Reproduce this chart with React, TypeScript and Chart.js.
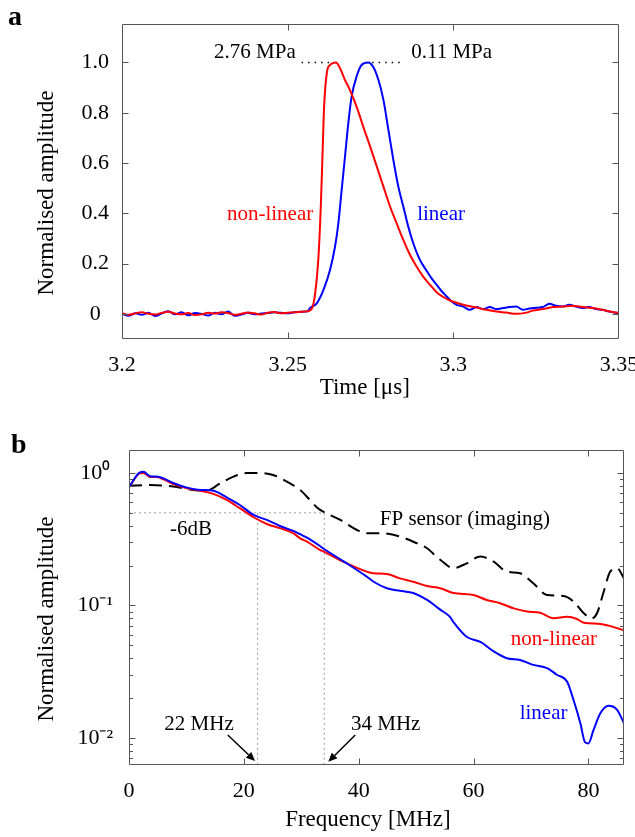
import React, { useEffect, useRef } from "react";
import { Chart, registerables } from "chart.js";

Chart.register(...registerables);

const SERIF = '"Liberation Serif", "Times New Roman", Times, serif';
const RED = "#ff0000";
const BLUE = "#0000ff";
const AXIS = "#555555";
const NB = "\u00a0";

// ---------------- Panel a : time traces ----------------
const timeNonLinear = [
  3.200, 3.202, 3.204, 3.206, 3.208, 3.210, 3.212, 3.214, 3.216, 3.218, 3.220, 3.222, 3.224, 3.226, 3.228,
  3.230, 3.232, 3.234, 3.236, 3.238, 3.240, 3.242, 3.244, 3.246, 3.248, 3.250, 3.252, 3.254, 3.256,
  3.2573, 3.2583, 3.2593, 3.2600, 3.2605, 3.2610, 3.2618, 3.2628, 3.2646, 3.2658,
  3.2673, 3.2688, 3.2708, 3.2728, 3.2749, 3.2769, 3.2789, 3.2809, 3.2829, 3.2849,
  3.2869, 3.2889, 3.2909, 3.2930, 3.2950, 3.2970, 3.2990, 3.3010, 3.3030, 3.3050,
  3.3070, 3.3100, 3.3130, 3.3160, 3.3190, 3.3220, 3.3240, 3.3270, 3.3300, 3.3330,
  3.3360, 3.3390, 3.3420, 3.3450, 3.3490, 3.3500,
];
const ampNonLinear = [
  0.003, -0.004, 0.002, 0.006, 0.000, -0.003, 0.004, 0.008, 0.002, -0.002, 0.003, -0.005, -0.002, 0.004, 0.001,
  0.006, 0.003, -0.004, 0.000, 0.005, 0.002, -0.003, 0.004, 0.007, 0.002, 0.004, 0.006, 0.008, 0.010,
  0.020, 0.082, 0.228, 0.427, 0.625, 0.824, 0.957, 0.990, 1.000, 0.977,
  0.930, 0.890, 0.824, 0.745, 0.665, 0.586, 0.506, 0.427, 0.360, 0.294,
  0.235, 0.188, 0.148, 0.115, 0.085, 0.067, 0.053, 0.044, 0.036, 0.030,
  0.025, 0.016, 0.009, 0.005, 0.000, 0.005, 0.013, 0.019, 0.027, 0.029,
  0.032, 0.027, 0.023, 0.016, 0.005, 0.004,
];
const timeLinear = [
  3.200, 3.202, 3.204, 3.206, 3.208, 3.210, 3.212, 3.214, 3.216, 3.218, 3.220, 3.222, 3.224, 3.226, 3.228,
  3.230, 3.232, 3.234, 3.236, 3.238, 3.240, 3.242, 3.244, 3.246, 3.248, 3.250, 3.252, 3.254, 3.256,
  3.2567, 3.2588, 3.2608, 3.2628, 3.2643, 3.2653, 3.2663, 3.2673, 3.2683, 3.2693,
  3.2708, 3.2723, 3.2743, 3.2758, 3.2774, 3.2789, 3.2804, 3.2819, 3.2834, 3.2849,
  3.2864, 3.2879, 3.2899, 3.2920, 3.2935, 3.2950, 3.2965, 3.2980, 3.2995, 3.3010,
  3.3030, 3.3050, 3.3070, 3.3090, 3.3110, 3.3130, 3.3150, 3.3170, 3.3190, 3.3210,
  3.3230, 3.3250, 3.3270, 3.3290, 3.3310, 3.3330, 3.3350, 3.3370, 3.3390, 3.3410,
  3.3430, 3.3450, 3.3470, 3.3500,
];
const ampLinear = [
  0.000, -0.008, 0.002, -0.004, 0.004, -0.009, 0.002, 0.010, -0.002, 0.006, -0.006, 0.003, 0.000, -0.007, 0.004,
  -0.002, 0.009, -0.008, -0.003, 0.004, -0.002, 0.001, 0.003, 0.006, 0.004, 0.002, 0.006, 0.008, 0.010,
  0.023, 0.042, 0.095, 0.175, 0.268, 0.360, 0.493, 0.625, 0.758, 0.864,
  0.944, 0.990, 1.000, 0.983, 0.930, 0.851, 0.732, 0.612, 0.506, 0.427,
  0.347, 0.281, 0.215, 0.170, 0.140, 0.115, 0.090, 0.069, 0.049, 0.036,
  0.029, 0.016, 0.027, 0.019, 0.027, 0.019, 0.023, 0.027, 0.029, 0.016,
  0.021, 0.024, 0.027, 0.040, 0.032, 0.029, 0.036, 0.029, 0.023, 0.027,
  0.019, 0.016, 0.009, 0.003,
];
const timeTicks = [3.2, 3.25, 3.3, 3.35];
const ampTicks = [0, 0.2, 0.4, 0.6, 0.8, 1.0];
const timeRange = [3.2, 3.35];
const ampRange = [-0.1, 1.153];
// dotted guide lines from the peaks to the pressure labels
const peakGuideNonLinear = [3.2542, 3.2637];
const peakGuideLinear = [3.2755, 3.2849];
const peakLevel = 1.0;

// ---------------- Panel b : spectra ----------------
const freqNonLinear = [
  0, 1.9, 2.5, 3.7, 4.8, 6.0, 7.7, 10.1, 12.4, 14.7,
  17.0, 19.3, 21.7, 24.0, 26.3, 28.6, 29.8, 31.0, 33.3, 33.9,
  37.3, 41.4, 42.6, 44.9, 47.2, 49.5, 51.9, 54.2, 56.5, 60.0,
  62.3, 64.6, 67.0, 69.3, 71.6, 73.9, 76.3, 78.0, 79.2, 82.1,
  86.2,
];
const specNonLinear = [
  0.78, 0.995, 1.0, 0.933, 0.933, 0.896, 0.826, 0.767, 0.735, 0.695,
  0.625, 0.542, 0.463, 0.412, 0.383, 0.351, 0.321, 0.303, 0.262, 0.255,
  0.214, 0.180, 0.175, 0.173, 0.160, 0.151, 0.140, 0.135, 0.124, 0.120,
  0.110, 0.104, 0.095, 0.090, 0.088, 0.080, 0.082, 0.079, 0.074, 0.0725,
  0.065,
];
const freqLinear = [
  0, 1.9, 2.5, 3.7, 4.8, 6.0, 7.7, 10.1, 12.4, 14.7,
  17.0, 19.3, 21.7, 24.0, 26.3, 28.6, 29.8, 31.0, 33.3, 33.9,
  37.3, 41.4, 42.6, 44.9, 47.2, 49.5, 51.9, 54.2, 55.9, 56.5,
  58.8, 61.2, 63.5, 65.8, 68.1, 70.4, 72.8, 74.5, 76.3, 77.4,
  78.6, 79.4, 80.0, 80.9, 82.1, 83.5, 85.0, 86.2,
];
const specLinear = [
  0.78, 1.01, 1.02, 0.945, 0.94, 0.91, 0.84, 0.775, 0.745, 0.735,
  0.655, 0.573, 0.482, 0.442, 0.398, 0.365, 0.345, 0.325, 0.280, 0.268,
  0.216, 0.165, 0.151, 0.135, 0.129, 0.124, 0.110, 0.093, 0.082, 0.075,
  0.058, 0.053, 0.045, 0.040, 0.0388, 0.0356, 0.0336, 0.030, 0.0266, 0.0194,
  0.0129, 0.0093, 0.0091, 0.0115, 0.0154, 0.0175, 0.0163, 0.0129,
];
const freqFP = [
  0, 3.7, 7.7, 11.2, 13.5, 15.9, 18.2, 20.5, 22.8, 25.1,
  27.5, 29.8, 31.5, 32.7, 33.3, 36.8, 39.7, 41.4, 43.7, 47.2,
  50.1, 51.9, 54.2, 56.5, 58.8, 61.2, 63.5, 65.8, 68.1, 70.4,
  72.8, 75.7, 77.4, 79.2, 80.6, 81.5, 82.6, 83.8, 85.0, 86.2,
];
const specFP = [
  0.80, 0.811, 0.79, 0.744, 0.735, 0.836, 0.938, 0.998, 1.0, 0.966,
  0.86, 0.744, 0.625, 0.551, 0.526, 0.442, 0.371, 0.351, 0.351, 0.331,
  0.295, 0.270, 0.221, 0.191, 0.208, 0.234, 0.214, 0.180, 0.175, 0.147,
  0.120, 0.118, 0.107, 0.0873, 0.080, 0.0873, 0.124, 0.180, 0.191, 0.160,
];
const freqTicks = [0, 20, 40, 60, 80];
const freqRange = [0, 86.2];
const specRange = [0.00625, 1.49];
const decades = [0.001, 0.01, 0.1, 1];
const minorMultipliers = [2, 3, 4, 5, 6, 7, 8, 9];
const superDigits: Record<string, string> = { "0": "⁰", "1": "¹", "2": "²", "-": "⁻" };
const minus6dBLevel = 0.5;
const cutoffFreqs = [22.4, 34];

// ---------------- helpers ----------------
const pts = (xs: number[], ys: number[]) => xs.map((x, i) => ({ x, y: ys[i] }));

const framePlugin = {
  id: "frame",
  afterDatasetsDraw(chart: any) {
    const { ctx, chartArea: a } = chart;
    const xs = chart.scales.x;
    const ys = chart.scales.y;
    const isLog = ys.type === "logarithmic";
    const L = Math.round(a.left) + 0.5;
    const R = Math.round(a.right) - 0.5;
    const T = Math.round(a.top) + 0.5;
    const B = Math.round(a.bottom) - 0.5;
    ctx.save();
    ctx.strokeStyle = AXIS;
    ctx.lineWidth = 1;
    ctx.beginPath();
    ctx.rect(L, T, R - L, B - T);
    for (const t of xs.ticks) {
      const p = Math.round(xs.getPixelForValue(t.value)) + 0.5;
      if (p <= L + 1 || p >= R - 1) continue;
      ctx.moveTo(p, B);
      ctx.lineTo(p, B - 6);
      ctx.moveTo(p, T);
      ctx.lineTo(p, T + 6);
    }
    for (const t of ys.ticks) {
      const p = Math.round(ys.getPixelForValue(t.value)) + 0.5;
      if (p <= T + 1 || p >= B - 1) continue;
      let len = 6;
      if (isLog) {
        const e = Math.log10(t.value);
        if (Math.abs(e - Math.round(e)) > 1e-6) len = 3.5;
      }
      ctx.moveTo(L, p);
      ctx.lineTo(L + len, p);
      ctx.moveTo(R, p);
      ctx.lineTo(R - len, p);
    }
    ctx.stroke();
    ctx.restore();
  },
};

type Note = { text: string; x: number; y: number; color: string };
type Arrow = { x0: number; y0: number; x1: number; y1: number };

const makeNotes = (notes: Note[], arrows: Arrow[]) => ({
  id: "notes",
  afterDraw(chart: any) {
    const { ctx } = chart;
    const xs = chart.scales.x;
    const ys = chart.scales.y;
    ctx.save();
    ctx.font = `21px ${SERIF}`;
    ctx.textAlign = "center";
    ctx.textBaseline = "middle";
    for (const n of notes) {
      ctx.fillStyle = n.color;
      ctx.fillText(n.text, xs.getPixelForValue(n.x), ys.getPixelForValue(n.y));
    }
    ctx.strokeStyle = "#000";
    ctx.fillStyle = "#000";
    ctx.lineWidth = 1.5;
    for (const ar of arrows) {
      const x0 = xs.getPixelForValue(ar.x0);
      const y0 = ys.getPixelForValue(ar.y0);
      const x1 = xs.getPixelForValue(ar.x1);
      const y1 = ys.getPixelForValue(ar.y1);
      const ang = Math.atan2(y1 - y0, x1 - x0);
      const hl = 9;
      const hw = 4;
      const bx = x1 - hl * Math.cos(ang);
      const by = y1 - hl * Math.sin(ang);
      ctx.beginPath();
      ctx.moveTo(x0, y0);
      ctx.lineTo(bx, by);
      ctx.stroke();
      ctx.beginPath();
      ctx.moveTo(x1, y1);
      ctx.lineTo(bx + hw * Math.sin(ang), by - hw * Math.cos(ang));
      ctx.lineTo(bx - hw * Math.sin(ang), by + hw * Math.cos(ang));
      ctx.closePath();
      ctx.fill();
    }
    ctx.restore();
  },
});

const tickFont = { family: SERIF, size: 22 };
const titleFont = { family: SERIF, size: 23 };

const fixX = (h: number) => (s: any) => {
  s.height = h;
  s.paddingLeft = 0;
  s.paddingRight = 0;
};
const fixY = (w: number) => (s: any) => {
  s.width = w;
  s.paddingTop = 0;
  s.paddingBottom = 0;
};

function useChart(makeConfig: () => any) {
  const ref = useRef<HTMLCanvasElement | null>(null);
  useEffect(() => {
    if (!ref.current) return;
    const chart = new Chart(ref.current, makeConfig());
    return () => chart.destroy();
  }, []);
  return ref;
}

function PanelA() {
  const ref = useChart(() => ({
    type: "line",
    data: {
      datasets: [
        { data: pts(timeNonLinear, ampNonLinear), borderColor: RED, borderWidth: 2, pointRadius: 0, cubicInterpolationMode: "monotone" },
        { data: pts(timeLinear, ampLinear), borderColor: BLUE, borderWidth: 2, pointRadius: 0, cubicInterpolationMode: "monotone" },
        {
          data: peakGuideNonLinear.map((x) => ({ x, y: peakLevel })),
          borderColor: "#000", borderWidth: 1.5, borderDash: [1.5, 5], pointRadius: 0,
        },
        {
          data: peakGuideLinear.map((x) => ({ x, y: peakLevel })),
          borderColor: "#000", borderWidth: 1.5, borderDash: [1.5, 5], pointRadius: 0,
        },
      ],
    },
    options: {
      animation: false,
      responsive: false,
      devicePixelRatio: 1,
      layout: { padding: { top: 24, right: 16, left: 0, bottom: 0 } },
      plugins: { legend: { display: false }, tooltip: { enabled: false } },
      scales: {
        x: {
          type: "linear",
          min: timeRange[0],
          max: timeRange[1],
          afterBuildTicks: (s: any) => { s.ticks = timeTicks.map((v) => ({ value: v })); },
          afterFit: fixX(71),
          grid: { display: false, drawTicks: false },
          border: { display: false },
          ticks: { font: tickFont, color: "#000", padding: 13, maxRotation: 0, autoSkip: false, callback: (v: any) => String(v) },
          title: { display: true, text: "Time [μs]" + NB + NB, font: titleFont, color: "#000", padding: { top: 0, bottom: 8 } },
        },
        y: {
          type: "linear",
          min: ampRange[0],
          max: ampRange[1],
          afterBuildTicks: (s: any) => { s.ticks = ampTicks.map((v) => ({ value: v })); },
          afterFit: fixY(122),
          grid: { display: false, drawTicks: false },
          border: { display: false },
          ticks: {
            font: tickFont, color: "#000", padding: 13, crossAlign: "center", autoSkip: false,
            callback: (v: any) => (v === 0 ? "0" : Number(v).toFixed(1)),
          },
          title: {
            display: true, text: "Normalised amplitude" + NB + NB + NB + NB, font: titleFont, color: "#000",
            padding: { top: 33, bottom: 0 },
          },
        },
      },
    },
    plugins: [
      framePlugin,
      makeNotes(
        [
          { text: "2.76 MPa", x: 3.2401, y: 1.038, color: "#000" },
          { text: "0.11 MPa", x: 3.2995, y: 1.038, color: "#000" },
          { text: "non-linear", x: 3.2447, y: 0.394, color: RED },
          { text: "linear", x: 3.2963, y: 0.394, color: BLUE },
        ],
        []
      ),
    ],
  }));
  return <canvas ref={ref} width={635} height={410} style={{ display: "block", width: 635, height: 410 }} />;
}

function PanelB() {
  const ref = useChart(() => {
    const logTicks: number[] = [];
    for (const d of decades) {
      for (const m of [1, ...minorMultipliers]) {
        const v = d * m;
        if (v >= specRange[0] && v <= specRange[1]) logTicks.push(v);
      }
    }
    const guide = { borderColor: "#9a9a9a", borderWidth: 1, borderDash: [2, 3], pointRadius: 0 };
    return {
      type: "line",
      data: {
        datasets: [
          { data: pts(freqLinear, specLinear), borderColor: BLUE, borderWidth: 2, pointRadius: 0, cubicInterpolationMode: "monotone" },
          { data: pts(freqNonLinear, specNonLinear), borderColor: RED, borderWidth: 2, pointRadius: 0, cubicInterpolationMode: "monotone" },
          {
            data: pts(freqFP, specFP), borderColor: "#000", borderWidth: 2, borderDash: [13, 7],
            pointRadius: 0, cubicInterpolationMode: "monotone",
          },
          { ...guide, data: [{ x: 0, y: minus6dBLevel }, { x: cutoffFreqs[1], y: minus6dBLevel }] },
          { ...guide, data: [{ x: cutoffFreqs[0], y: minus6dBLevel }, { x: cutoffFreqs[0], y: specRange[0] * 0.5 }] },
          { ...guide, data: [{ x: cutoffFreqs[1], y: minus6dBLevel }, { x: cutoffFreqs[1], y: specRange[0] * 0.5 }] },
        ],
      },
      options: {
        animation: false,
        responsive: false,
        devicePixelRatio: 1,
        layout: { padding: { top: 40, right: 11, left: 0, bottom: 0 } },
        plugins: { legend: { display: false }, tooltip: { enabled: false } },
        scales: {
          x: {
            type: "linear",
            min: freqRange[0],
            max: freqRange[1],
            afterBuildTicks: (s: any) => { s.ticks = freqTicks.map((v) => ({ value: v })); },
            afterFit: fixX(72),
            grid: { display: false, drawTicks: false },
            border: { display: false },
            ticks: { font: tickFont, color: "#000", padding: 13, maxRotation: 0, autoSkip: false, callback: (v: any) => String(v) },
            title: { display: true, text: "Frequency [MHz]" + NB + NB + NB, font: titleFont, color: "#000", padding: { top: 0, bottom: 3 } },
          },
          y: {
            type: "logarithmic",
            min: specRange[0],
            max: specRange[1],
            afterBuildTicks: (s: any) => { s.ticks = logTicks.map((v) => ({ value: v })); },
            afterFit: fixY(129),
            grid: { display: false, drawTicks: false },
            border: { display: false },
            ticks: {
              font: tickFont, color: "#000", padding: 16, crossAlign: "center", autoSkip: false,
              callback: (v: any) => {
                const e = Math.log10(Number(v));
                if (Math.abs(e - Math.round(e)) > 1e-6) return "";
                const exp = String(Math.round(e)).split("").map((c) => superDigits[c]).join("");
                return "10" + exp;
              },
            },
            title: {
              display: true, text: "Normalised amplitude" + NB + NB + NB + NB, font: titleFont, color: "#000",
              padding: { top: 33, bottom: 0 },
            },
          },
        },
      },
      plugins: [
        framePlugin,
        makeNotes(
          [
            { text: "-6dB", x: 10.8, y: 0.376, color: "#000" },
            { text: "FP sensor (imaging)", x: 58.5, y: 0.442, color: "#000" },
            { text: "non-linear", x: 74.0, y: 0.0558, color: RED },
            { text: "linear", x: 72.2, y: 0.0154, color: BLUE },
            { text: "22 MHz", x: 12.2, y: 0.01254, color: "#000" },
            { text: "34 MHz", x: 44.7, y: 0.01254, color: "#000" },
          ],
          [
            { x0: 17.2, y0: 0.01054, x1: 21.95, y1: 0.0067 },
            { x0: 39.4, y0: 0.01054, x1: 34.7, y1: 0.0066 },
          ]
        ),
      ],
    };
  });
  return <canvas ref={ref} width={635} height={427} style={{ display: "block", width: 635, height: 427 }} />;
}

const panelLetter: React.CSSProperties = {
  position: "absolute",
  fontFamily: SERIF,
  fontWeight: "bold",
  fontSize: 28,
  lineHeight: "28px",
  color: "#000",
};

export default function App() {
  return (
    <div style={{ position: "absolute", left: 0, top: 0, width: 635, height: 837, background: "#fff", overflow: "hidden" }}>
      <div style={{ position: "absolute", left: 0, top: 0 }}>
        <PanelA />
      </div>
      <div style={{ position: "absolute", left: 0, top: 410 }}>
        <PanelB />
      </div>
      <div style={{ ...panelLetter, left: 8, top: 2 }}>a</div>
      <div style={{ ...panelLetter, left: 11, top: 430 }}>b</div>
    </div>
  );
}
